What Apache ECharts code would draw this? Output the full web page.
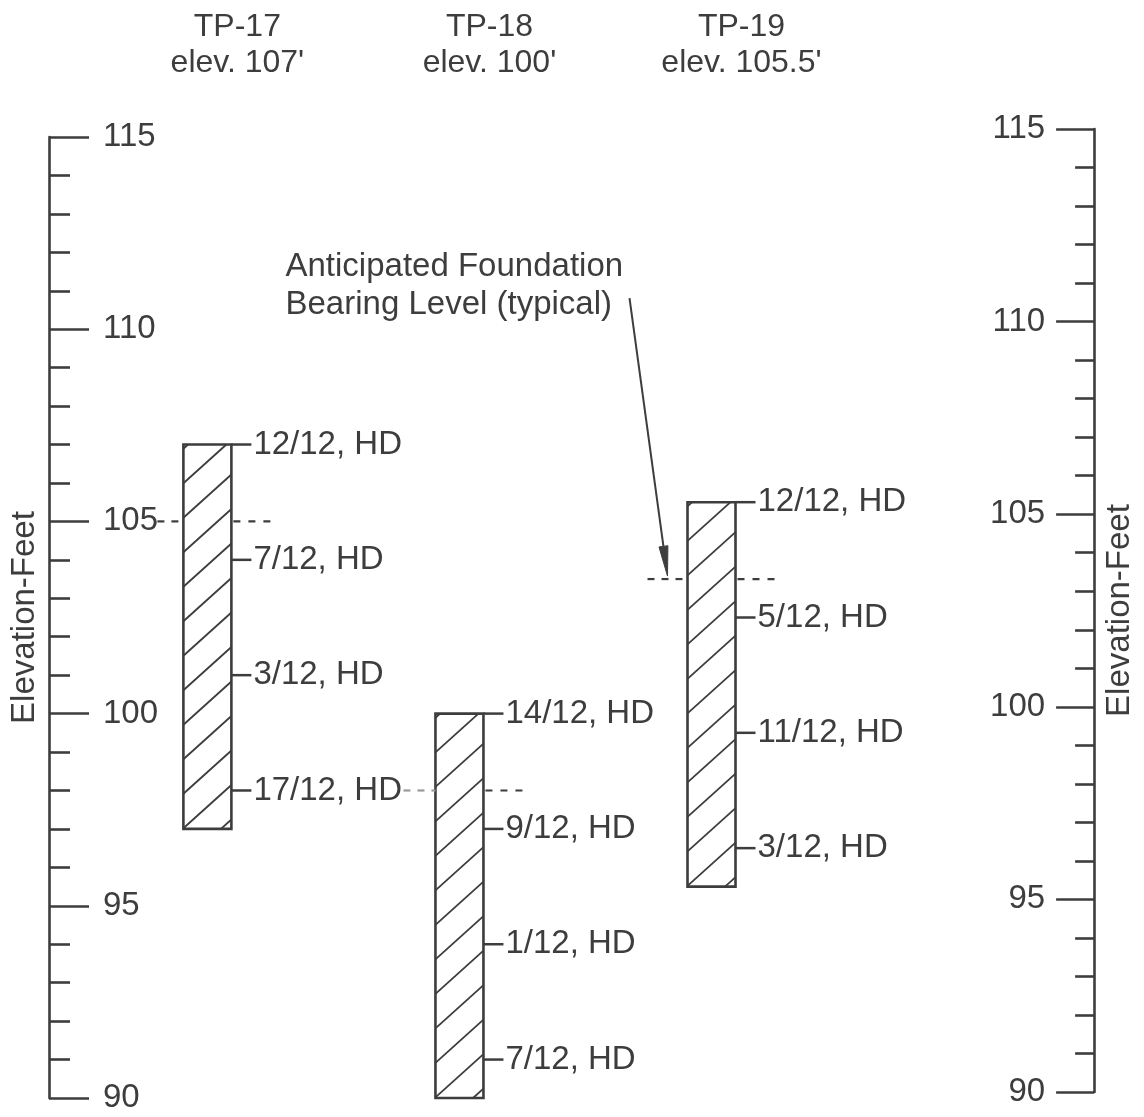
<!DOCTYPE html>
<html><head><meta charset="utf-8">
<script src="https://cdn.jsdelivr.net/npm/echarts@6/dist/echarts.min.js"></script>
<style>html,body{margin:0;padding:0;background:#fff}#c{width:1144px;height:1117px}</style>
</head><body><div id="c"></div>
<script>
// ---------- data ----------
const holes = ['TP-17', 'TP-18', 'TP-19'];
const topElev = [107, 100, 105.5];
const bottomElev = [97, 90, 95.5];
const bearingElev = [105, 98, 103.5];
const sampleElev = [
  [107, 104, 101, 98],
  [100, 97, 94, 91],
  [105.5, 102.5, 99.5, 96.5]
];
const sampleLabel = [
  ['12/12, HD', '7/12, HD', '3/12, HD', '17/12, HD'],
  ['14/12, HD', '9/12, HD', '1/12, HD', '7/12, HD'],
  ['12/12, HD', '5/12, HD', '11/12, HD', '3/12, HD']
];
const yMin = 90, yMax = 115, yStep = 5;
const axisName = 'Elevation-Feet';
const noteLines = ['Anticipated Foundation', 'Bearing Level (typical)'];
const noteHole = 2;

// ---------- style ----------
const INK = '#3d3d3d';
const FONT = '"Liberation Sans", Arial, Helvetica, sans-serif';
const FS = 33;
const FS_HEAD = 32;
const BAR_W = 48;
const TICK_LEN = 20;
const HATCH_GAP = 34.5, HATCH_SLOPE = 0.9, HATCH_PHASE = 30;
const DASH_LEFT = [26, 32, 40], DASH_RIGHT = 39;
const DASH_LEFT_COLOR = [INK, '#9a9a9a', INK];
const XMIN = -0.6284, XMAX = 3.5373;

// ---------- derived series data ----------
const barData = holes.map((h, i) => [i, topElev[i], bottomElev[i]]);
const sampleData = [];
sampleElev.forEach((arr, i) => arr.forEach((e, j) => sampleData.push([i, e, sampleLabel[i][j]])));
const bearingData = holes.map((h, i) => [i, bearingElev[i]]);
const headerData = holes.map((h, i) => [i, yMax]);
const fmtElev = v => "elev. " + v + "'";

function renderBar(params, api) {
  const i = api.value(0);
  const pTop = api.coord([i, api.value(1)]);
  const pBot = api.coord([i, api.value(2)]);
  const w = BAR_W, x0 = pTop[0] - w / 2, x1 = pTop[0] + w / 2, yt = pTop[1], yb = pBot[1];
  const m = HATCH_SLOPE, s = HATCH_GAP;
  const children = [];
  let yr = yt + HATCH_PHASE;
  while (yr - s > yt - m * w) yr -= s;
  for (; yr < yb; yr += s) {
    const yl = yr + m * w;
    let ax = x1, ay = yr, bx = x0, by = yl;
    if (ay < yt) { ax = x1 - (yt - ay) / m; ay = yt; }
    if (by > yb) { bx = x0 + (by - yb) / m; by = yb; }
    if (ax <= bx || ay >= by) continue;
    children.push({ type: 'line', shape: { x1: bx, y1: by, x2: ax, y2: ay }, style: { stroke: INK, lineWidth: 1.8 } });
  }
  children.push({ type: 'rect', shape: { x: x0, y: yt, width: w, height: yb - yt }, style: { fill: null, stroke: INK, lineWidth: 2.6 } });
  return { type: 'group', children };
}

function renderSample(params, api) {
  const p = api.coord([api.value(0), api.value(1)]);
  const xr = p[0] + BAR_W / 2;
  return { type: 'group', children: [
    { type: 'line', shape: { x1: xr, y1: p[1], x2: xr + TICK_LEN, y2: p[1] }, style: { stroke: INK, lineWidth: 2.5 } },
    { type: 'text', style: { text: sampleData[params.dataIndex][2], x: xr + TICK_LEN + 2, y: p[1], align: 'left', verticalAlign: 'middle', font: FS + 'px ' + FONT, fill: INK } }
  ] };
}

function renderBearing(params, api) {
  const i = params.dataIndex;
  const p = api.coord([api.value(0), api.value(1)]);
  const xl = p[0] - BAR_W / 2, xr = p[0] + BAR_W / 2;
  return { type: 'group', children: [
    { type: 'line', shape: { x1: xl - DASH_LEFT[i], y1: p[1], x2: xl, y2: p[1] }, style: { stroke: DASH_LEFT_COLOR[i], lineWidth: 2.2, lineDash: [7, 7] } },
    { type: 'line', shape: { x1: xr + 2, y1: p[1], x2: xr + DASH_RIGHT, y2: p[1] }, style: { stroke: INK, lineWidth: 2.2, lineDash: [7, 8] } }
  ] };
}

function renderHeader(params, api) {
  const i = params.dataIndex;
  const p = api.coord([api.value(0), api.value(1)]);
  const cx = p[0] + 30;
  return { type: 'group', children: [
    { type: 'text', style: { text: holes[i], x: cx, y: p[1] - 110, align: 'center', verticalAlign: 'middle', font: FS_HEAD + 'px ' + FONT, fill: INK } },
    { type: 'text', style: { text: fmtElev(topElev[i]), x: cx, y: p[1] - 74, align: 'center', verticalAlign: 'middle', font: FS_HEAD + 'px ' + FONT, fill: INK } }
  ] };
}

function renderNote(params, api) {
  const p = api.coord([api.value(0), api.value(1)]);
  const tip = [p[0] - BAR_W / 2 - 20, p[1] - 3];
  const tail = [tip[0] - 38, tip[1] - 278];
  const dx = tip[0] - tail[0], dy = tip[1] - tail[1], L = Math.hypot(dx, dy);
  const ux = dx / L, uy = dy / L, hl = 30, hw = 4.5;
  const bx = tip[0] - ux * hl, by = tip[1] - uy * hl;
  return { type: 'group', children: [
    { type: 'text', style: { text: noteLines[0], x: tip[0] - 382, y: tip[1] - 309, align: 'left', verticalAlign: 'middle', font: '33px ' + FONT, fill: INK } },
    { type: 'text', style: { text: noteLines[1], x: tip[0] - 382, y: tip[1] - 271, align: 'left', verticalAlign: 'middle', font: '33px ' + FONT, fill: INK } },
    { type: 'line', shape: { x1: tail[0], y1: tail[1], x2: bx, y2: by }, style: { stroke: INK, lineWidth: 2 } },
    { type: 'polygon', shape: { points: [tip, [bx - uy * hw, by + ux * hw], [bx + uy * hw, by - ux * hw]] }, style: { fill: INK, stroke: INK, lineWidth: 1 } }
  ] };
}

const yAxisBase = (gridIndex, position, tickLen, minorLen, margin) => ({
  type: 'value', gridIndex, position, min: yMin, max: yMax, interval: yStep,
  axisLine: { show: true, onZero: false, lineStyle: { color: INK, width: 2.6 } },
  axisTick: { show: true, inside: true, length: tickLen, lineStyle: { color: INK, width: 2.6 } },
  minorTick: { show: true, splitNumber: 5, length: minorLen, lineStyle: { color: INK, width: 2.6 } },
  axisLabel: { inside: true, margin, fontSize: FS, color: INK, fontFamily: FONT },
  splitLine: { show: false },
  name: axisName, nameLocation: 'middle', nameRotate: 90, nameGap: 8,
  nameTextStyle: { fontSize: FS, color: INK, fontFamily: FONT }
});

const chart = echarts.init(document.getElementById('c'), null, { renderer: 'canvas' });
chart.setOption({
  backgroundColor: '#fff',
  animation: false,
  grid: [
    { left: 43, right: 45, top: 137, bottom: 19 },
    { left: 43, right: 45, top: 129, bottom: 25 }
  ],
  xAxis: [
    { type: 'value', gridIndex: 0, min: XMIN, max: XMAX, show: false },
    { type: 'value', gridIndex: 1, min: XMIN, max: XMAX, show: false }
  ],
  yAxis: [
    yAxisBase(0, 'left', 40, 21, 54),
    yAxisBase(1, 'right', 38, 19, 49)
  ],
  series: [
    { type: 'custom', xAxisIndex: 0, yAxisIndex: 0, clip: false, data: barData, encode: { x: 0, y: [1, 2] }, renderItem: renderBar },
    { type: 'custom', xAxisIndex: 0, yAxisIndex: 0, clip: false, data: sampleData.map(d => [d[0], d[1]]), renderItem: renderSample },
    { type: 'custom', xAxisIndex: 0, yAxisIndex: 0, clip: false, data: bearingData, renderItem: renderBearing },
    { type: 'custom', xAxisIndex: 0, yAxisIndex: 0, clip: false, data: headerData, renderItem: renderHeader },
    { type: 'custom', xAxisIndex: 0, yAxisIndex: 0, clip: false, data: [[noteHole, bearingElev[noteHole]]], renderItem: renderNote }
  ]
});
</script>
</body></html>
